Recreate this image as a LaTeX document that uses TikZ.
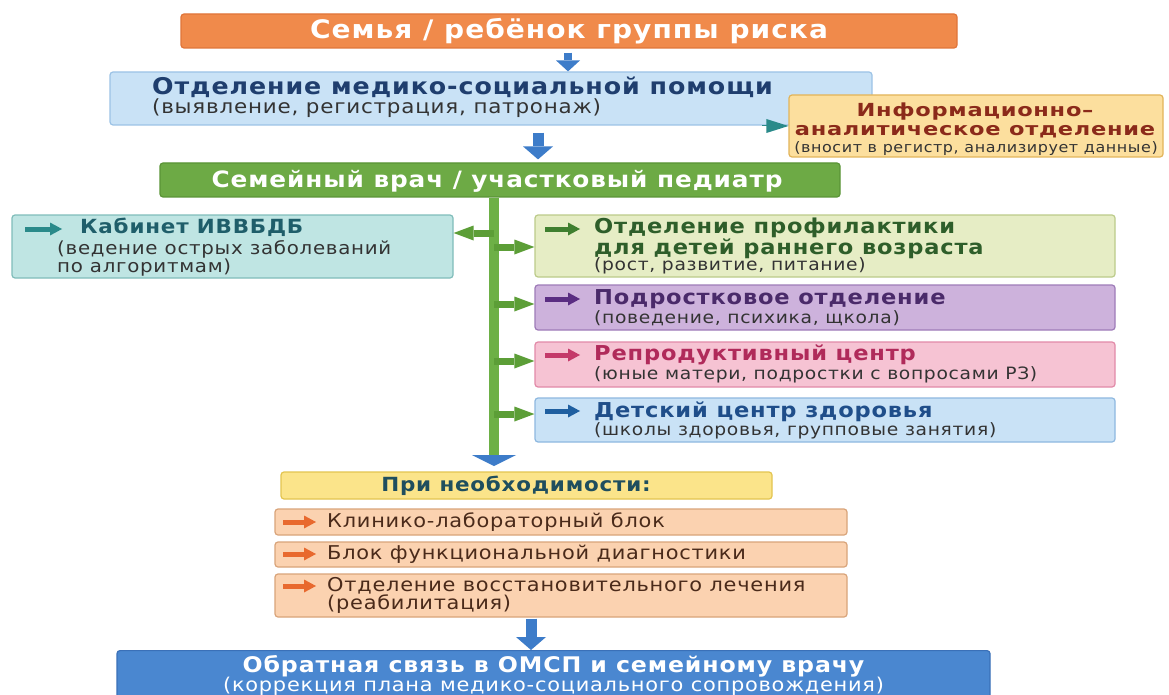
\documentclass[tikz,border=0pt]{standalone}
\usepackage{fontspec}
\setmainfont{DejaVu Sans}[FakeStretch=1.1, LetterSpace=4]
\usetikzlibrary{arrows.meta}

\definecolor{riskfill}{HTML}{F08A4B}
\definecolor{riskline}{HTML}{E0753A}
\definecolor{msofill}{HTML}{C9E2F6}
\definecolor{msoline}{HTML}{9CC3E6}
\definecolor{navy}{HTML}{1F3E6E}
\definecolor{infofill}{HTML}{FCDF9E}
\definecolor{infoline}{HTML}{E2B45A}
\definecolor{infotext}{HTML}{8B2A1A}
\definecolor{gpfill}{HTML}{6DAA45}
\definecolor{gpline}{HTML}{5A9436}
\definecolor{trunkgreen}{HTML}{6DB046}
\definecolor{branchgreen}{HTML}{5C9E37}
\definecolor{kabfill}{HTML}{BFE5E3}
\definecolor{kabline}{HTML}{80BDBA}
\definecolor{kabtext}{HTML}{1F5E6A}
\definecolor{kabicon}{HTML}{2A8A8A}
\definecolor{proffill}{HTML}{E6EDC5}
\definecolor{profline}{HTML}{BCCB8A}
\definecolor{proftext}{HTML}{2E5E2A}
\definecolor{proficon}{HTML}{3F7F2F}
\definecolor{teenfill}{HTML}{CDB2DC}
\definecolor{teenline}{HTML}{9E7BB8}
\definecolor{teentext}{HTML}{4A2A6A}
\definecolor{teenicon}{HTML}{5A2D82}
\definecolor{reprfill}{HTML}{F6C3D3}
\definecolor{reprline}{HTML}{E28AA8}
\definecolor{reprtext}{HTML}{B02A5A}
\definecolor{repricon}{HTML}{C43A6A}
\definecolor{childfill}{HTML}{C9E2F6}
\definecolor{childline}{HTML}{8EB8E0}
\definecolor{childtext}{HTML}{1F4E8A}
\definecolor{childicon}{HTML}{1F5FA0}
\definecolor{needfill}{HTML}{FBE48A}
\definecolor{needline}{HTML}{E3C550}
\definecolor{needtext}{HTML}{1F4E5E}
\definecolor{peachfill}{HTML}{FBD2B0}
\definecolor{peachline}{HTML}{D9A47A}
\definecolor{peachtext}{HTML}{4A2A1A}
\definecolor{peachicon}{HTML}{E8692E}
\definecolor{backfill}{HTML}{4A87D0}
\definecolor{backline}{HTML}{3A70B8}
\definecolor{flowblue}{HTML}{3D7CC9}
\definecolor{subgrey}{HTML}{333333}

\begin{document}
\begin{tikzpicture}[x=1pt, y=-1pt,
	box/.style={draw, rounded corners=3pt, line width=1.2pt, inner sep=0pt},
	ttl/.style={inner sep=0pt, anchor=west, font=\bfseries\fontsize{20.5}{24}\selectfont},
	sub/.style={inner sep=0pt, anchor=west, font=\fontsize{17}{20}\selectfont},
	flow/.style={draw=flowblue, line width=11pt, -{Triangle[width=30pt,length=13pt,line width=0pt]}},
	icon/.style={draw=#1, line width=5pt, -{Triangle[width=13pt,length=12pt,line width=0pt]}},
	branch/.style={draw=branchgreen, line width=7pt, -{Triangle[width=15pt,length=20pt,line width=0pt]}}]
	
	\useasboundingbox[fill=white] (0,0) rectangle (1169,695);
	
	% Top of the chain
	\node[box, draw=riskline, fill=riskfill, minimum width=776pt, minimum height=34pt] (risk) at (569,31) {};
	\node[inner sep=0pt, text=white, font=\bfseries\fontsize{25.5}{29}\selectfont] (risktxt) at (569,31) {Семья / ребёнок группы риска};
	
	\node[box, draw=msoline, fill=msofill, minimum width=762pt, minimum height=53pt] (mso) at (491,98.5) {};
	\node[ttl, text=navy, font=\bfseries\fontsize{23}{27}\selectfont] (msottl) at (152,87) {Отделение медико-социальной помощи};
	\node[sub, text=subgrey, font=\fontsize{19.5}{23}\selectfont] (msosub) at (152,108) {(выявление, регистрация, патронаж)};
	
	\node[box, draw=infoline, fill=infofill, minimum width=374pt, minimum height=62pt] (info) at (976,126) {};
	\node[inner sep=0pt, align=center, text=infotext, font=\bfseries\fontsize{18}{19}\selectfont\addfontfeature{FakeStretch=1.25}] (infottl) at (975,120) {Информационно–\\аналитическое отделение};
	\node[inner sep=0pt, text=subgrey, font=\fontsize{14.5}{17}\selectfont] (infosub) at (976,148.5) {(вносит в регистр, анализирует данные)};
	
	\node[box, draw=gpline, fill=gpfill, minimum width=680pt, minimum height=34pt] (gp) at (500,180) {};
	\node[inner sep=0pt, text=white, font=\bfseries\fontsize{22.5}{26}\selectfont] (gptxt) at (497,181) {Семейный врач / участковый педиатр};
	
	% Arrows of the chain
	\draw[draw=flowblue, line width=8pt, -{Triangle[width=24pt,length=11pt,line width=0pt]}, shorten <=4pt] ([xshift=-1pt]risk.south) -- ([xshift=77pt]mso.north);
	\draw[flow, shorten <=7pt, shorten >=3pt] ([xshift=47pt]mso.south) -- ([xshift=38pt]gp.north);
	\coordinate (infoin) at ([xshift=-26pt]info.west);
	\draw[draw=kabicon, line width=0pt, -{Triangle[width=14pt,length=22pt,line width=0pt]}] (infoin) -- (info.west);
	
	% Left department
	\node[box, draw=kabline, fill=kabfill, minimum width=441pt, minimum height=63pt] (kab) at (232.5,246.5) {};
	\draw[icon=kabicon] (25,229) -- (62,229);
	\node[ttl, text=kabtext, font=\bfseries\fontsize{19.5}{23}\selectfont] (kabttl) at (80,227) {Кабинет ИВВБДБ};
	\node[sub, text=subgrey, align=left, font=\fontsize{18}{16}\selectfont] (kabsub) at (57,258.5) {(ведение острых заболеваний\\по алгоритмам)};
	
	% Right departments
	\node[box, draw=profline, fill=proffill, minimum width=580pt, minimum height=62pt] (prof) at (825,246) {};
	\draw[icon=proficon] (545,229) -- (580,229);
	\node[ttl, text=proftext, align=left, font=\bfseries\fontsize{20.5}{18}\selectfont] (profttl) at (594,238) {Отделение профилактики\\для детей раннего возраста};
	\node[sub, text=subgrey] (profsub) at (594,265.5) {(рост, развитие, питание)};
	
	\node[box, draw=teenline, fill=teenfill, minimum width=580pt, minimum height=45pt] (teen) at (825,307.5) {};
	\draw[icon=teenicon] (545,299) -- (580,299);
	\node[ttl, text=teentext] (teenttl) at (594,299) {Подростковое отделение};
	\node[sub, text=subgrey] (teensub) at (594,318.5) {(поведение, психика, щкола)};
	
	\node[box, draw=reprline, fill=reprfill, minimum width=580pt, minimum height=45pt] (repr) at (825,364.5) {};
	\draw[icon=repricon] (545,355) -- (580,355);
	\node[ttl, text=reprtext] (reprttl) at (594,355) {Репродуктивный центр};
	\node[sub, text=subgrey] (reprsub) at (594,375) {(юные матери, подростки с вопросами РЗ)};
	
	\node[box, draw=childline, fill=childfill, minimum width=580pt, minimum height=44pt] (child) at (825,420) {};
	\draw[icon=childicon] (545,411) -- (580,411);
	\node[ttl, text=childtext] (childttl) at (594,411.5) {Детский центр здоровья};
	\node[sub, text=subgrey] (childsub) at (594,431) {(школы здоровья, групповые занятия)};
	
	% Trunk and branches
	\coordinate (tk) at ([xshift=-6pt]gp.south);
	\coordinate (tkend) at (494,466);
	\draw[draw=trunkgreen, line width=10pt, -{Triangle[width=44pt,length=11pt,line width=0pt,color=flowblue]}] (tk) -- (tkend);
	\draw[branch] (tk |- 0,233) -- (kab.east |- 0,233);
	\draw[branch] (tk |- 0,247) -- (prof.west |- 0,247);
	\draw[branch] (tk |- 0,304) -- (teen.west |- 0,304);
	\draw[branch] (tk |- 0,361) -- (repr.west |- 0,361);
	\draw[branch] (tk |- 0,414) -- (child.west |- 0,414);
	
	% If needed
	\node[box, draw=needline, fill=needfill, minimum width=491pt, minimum height=27pt] (need) at (526.5,485.5) {};
	\node[inner sep=0pt, text=needtext, font=\bfseries\fontsize{19.5}{23}\selectfont] (needtxt) at (516,486) {При необходимости:};
	
	\node[box, draw=peachline, fill=peachfill, minimum width=572pt, minimum height=26pt] (lab) at (561,522) {};
	\draw[icon=peachicon] (283,522) -- (316,522);
	\node[sub, text=peachtext, font=\fontsize{19}{22}\selectfont] (labtxt) at (327,522) {Клинико-лабораторный блок};
	
	\node[box, draw=peachline, fill=peachfill, minimum width=572pt, minimum height=25pt] (func) at (561,554.5) {};
	\draw[icon=peachicon] (283,554) -- (316,554);
	\node[sub, text=peachtext, font=\fontsize{19}{22}\selectfont] (functxt) at (327,554) {Блок функциональной диагностики};
	
	\node[box, draw=peachline, fill=peachfill, minimum width=572pt, minimum height=43pt] (rehab) at (561,595.5) {};
	\draw[icon=peachicon] (283,586) -- (316,586);
	\node[sub, text=peachtext, align=left, font=\fontsize{19}{18}\selectfont] (rehabtxt) at (327,595) {Отделение восстановительного лечения\\(реабилитация)};
	
	% Feedback
	\node[box, draw=backline, fill=backfill, minimum width=873pt, minimum height=50pt, anchor=north] (back) at (553.5,650) {};
	\node[inner sep=0pt, text=white, font=\bfseries\fontsize{21.5}{25}\selectfont] (backttl) at (553.5,666) {Обратная связь в ОМСП и семейному врачу};
	\node[inner sep=0pt, text=white, font=\fontsize{19}{22}\selectfont] (backsub) at (553.5,686) {(коррекция плана медико-социального сопровождения)};
	\draw[flow, shorten <=1pt] ([xshift=-30pt]rehab.south) -- ([xshift=-22.5pt]back.north);
	
\end{tikzpicture}
\end{document}
